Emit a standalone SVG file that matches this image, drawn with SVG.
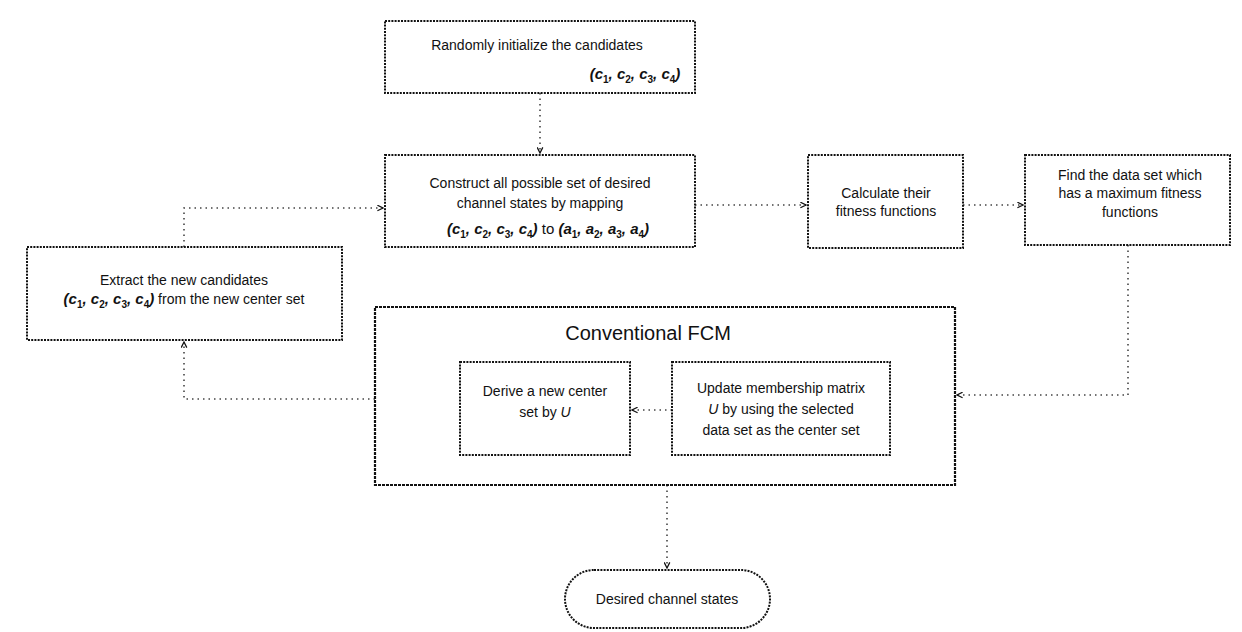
<svg xmlns="http://www.w3.org/2000/svg" width="1242" height="632" viewBox="0 0 1242 632">
<style>
  .box { fill: #fff; stroke: #111; stroke-width: 2; stroke-dasharray: 2 1.2; }
  .fcm { fill: none; stroke: #111; stroke-width: 2.2; stroke-dasharray: 3 1; }
  .conn { fill: none; stroke: #444; stroke-width: 1.6; stroke-dasharray: 1.5 4; }
  text { font-family: "Liberation Sans", Arial, sans-serif; font-size: 14px; fill: #111; text-anchor: middle; }
  .title { font-size: 20px; }
  .m { font-style: italic; font-size: 15px; font-weight: bold; }
  .s { font-size: 10px; font-style: normal; font-weight: bold; }
</style>
<defs>
  <marker id="arr" viewBox="0 0 10 10" refX="9" refY="5" markerWidth="7" markerHeight="7" orient="auto" markerUnits="userSpaceOnUse">
    <path d="M1,1 L9,5 L1,9" fill="none" stroke="#111" stroke-width="1.8"/>
  </marker>
</defs>
<rect width="1242" height="632" fill="#fff"/>

<g id="connectors">
  <path class="conn" d="M540,93 L540,153" marker-end="url(#arr)"/>
  <path class="conn" d="M695,205 L806,205" marker-end="url(#arr)"/>
  <path class="conn" d="M963,205 L1023,205" marker-end="url(#arr)"/>
  <path class="conn" d="M1128,245 L1128,395 L957,395" marker-end="url(#arr)"/>
  <path class="conn" d="M672,410 L632,410" marker-end="url(#arr)"/>
  <path class="conn" d="M375,399 L184,399 L184,342" marker-end="url(#arr)"/>
  <path class="conn" d="M184,247 L184,208 L383,208" marker-end="url(#arr)"/>
  <path class="conn" d="M667,485 L667,568" marker-end="url(#arr)"/>
</g>

<g id="node-init">
  <rect class="box" x="385" y="21" width="310" height="72"/>
  <text x="537" y="50">Randomly initialize the candidates</text>
  <text x="635" y="79" class="m">(c<tspan class="s" dy="4">1</tspan><tspan dy="-4">, c</tspan><tspan class="s" dy="4">2</tspan><tspan dy="-4">, c</tspan><tspan class="s" dy="4">3</tspan><tspan dy="-4">, c</tspan><tspan class="s" dy="4">4</tspan><tspan dy="-4">)</tspan></text>
</g>

<g id="node-construct">
  <rect class="box" x="385" y="155" width="310" height="92"/>
  <text x="540" y="188">Construct all possible set of desired</text>
  <text x="540" y="208">channel states by mapping</text>
  <text x="548" y="234" class="m">(c<tspan class="s" dy="4">1</tspan><tspan dy="-4">, c</tspan><tspan class="s" dy="4">2</tspan><tspan dy="-4">, c</tspan><tspan class="s" dy="4">3</tspan><tspan dy="-4">, c</tspan><tspan class="s" dy="4">4</tspan><tspan dy="-4">) </tspan><tspan style="font-style:normal;font-weight:normal">to</tspan><tspan> (a</tspan><tspan class="s" dy="4">1</tspan><tspan dy="-4">, a</tspan><tspan class="s" dy="4">2</tspan><tspan dy="-4">, a</tspan><tspan class="s" dy="4">3</tspan><tspan dy="-4">, a</tspan><tspan class="s" dy="4">4</tspan><tspan dy="-4">)</tspan></text>
</g>

<g id="node-calc">
  <rect class="box" x="808" y="155" width="155" height="93"/>
  <text x="886" y="198">Calculate their</text>
  <text x="886" y="216">fitness functions</text>
</g>

<g id="node-find">
  <rect class="box" x="1025" y="155" width="205" height="90"/>
  <text x="1130" y="180">Find the data set which</text>
  <text x="1130" y="198">has a maximum fitness</text>
  <text x="1130" y="217">functions</text>
</g>

<g id="node-extract">
  <rect class="box" x="27" y="247" width="315" height="93"/>
  <text x="184" y="285">Extract the new candidates</text>
  <text x="184" y="304"><tspan class="m">(c</tspan><tspan class="s" dy="4">1</tspan><tspan class="m" dy="-4">, c</tspan><tspan class="s" dy="4">2</tspan><tspan class="m" dy="-4">, c</tspan><tspan class="s" dy="4">3</tspan><tspan class="m" dy="-4">, c</tspan><tspan class="s" dy="4">4</tspan><tspan class="m" dy="-4">)</tspan> from the new center set</text>
</g>

<g id="node-fcm">
  <rect class="fcm" x="375" y="307" width="580" height="178"/>
  <text x="648" y="340" class="title">Conventional FCM</text>
</g>

<g id="node-derive">
  <rect class="box" x="460" y="362" width="170" height="93"/>
  <text x="545" y="396">Derive a new center</text>
  <text x="545" y="417">set by <tspan font-style="italic">U</tspan></text>
</g>

<g id="node-update">
  <rect class="box" x="672" y="362" width="218" height="93"/>
  <text x="781" y="393">Update membership matrix</text>
  <text x="781" y="414"><tspan font-style="italic">U</tspan> by using the selected</text>
  <text x="781" y="435">data set as the center set</text>
</g>

<g id="node-desired">
  <rect class="box" x="565" y="570" width="205" height="58" rx="29" ry="29"/>
  <text x="667" y="604">Desired channel states</text>
</g>
</svg>
